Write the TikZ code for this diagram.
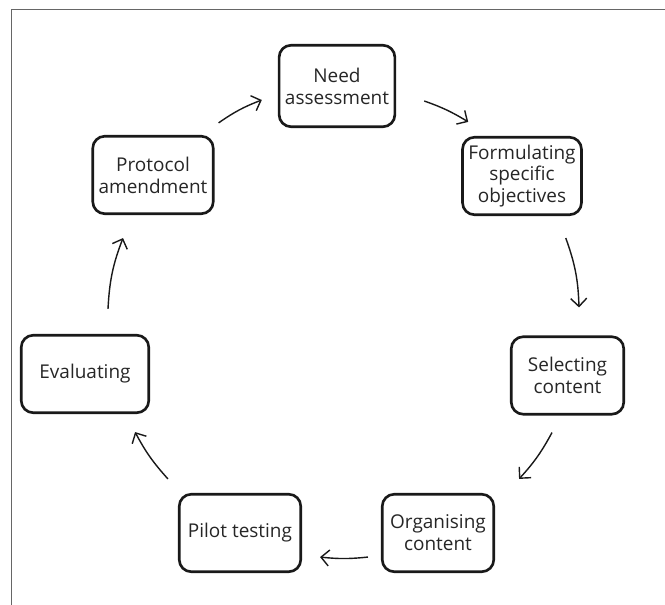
\documentclass[tikz,border=0pt]{standalone}
\usepackage{fontspec}
\setmainfont{Open Sans}
\usepackage{xcolor}
\usetikzlibrary{arrows.meta,positioning}

\begin{document}
\begin{tikzpicture}[
    stage/.style={rectangle, draw=black!90, line width=1.5pt, rounded corners=0.24cm, minimum width=2.25cm, minimum height=1.55cm, align=center, text=black!85, font=\fontsize{10.8}{12.4}\selectfont},
    arrow/.style={-{Straight Barb[length=1.6mm,width=3.2mm]}, line width=0.8pt, black!90}
]
    \useasboundingbox (0,0) rectangle (13.3,12.1);
    % frame (top and left edge only)
    \draw[gray!80!black, line width=0.8pt] (0.23,0) -- (0.23,11.914) -- (13.3,11.914);

    % Stages
    \node[stage, minimum height=1.63cm] (need) at (6.74,10.38) {Need\\assessment};
    \node[stage] (form) at (10.44,8.58) {Formulating\\specific\\objectives};
    \node[stage] (sel) at (11.35,4.59) {Selecting\\content};
    \node[stage, minimum width=2.23cm] (org) at (8.76,1.44) {Organising\\content};
    \node[stage, minimum width=2.43cm] (pilot) at (4.80,1.44) {Pilot testing};
    \node[stage, minimum width=2.55cm] (eval) at (1.70,4.62) {Evaluating};
    \node[stage] (prot) at (3.06,8.60) {Protocol\\amendment};

    % Cycle
    \draw[arrow] ([shift={(0.08,0.24)}]prot.north east) to[bend left=7] ([shift={(-0.32,-0.28)}]need.west);
    \draw[arrow] ([shift={(0.56,-0.30)}]need.east) to[bend left=6] ([shift={(0.14,0.28)}]form.north west);
    \draw[arrow] ([shift={(-0.34,-0.44)}]form.south east) to[bend left=9] ([shift={(0.23,0.56)}]sel.north);
    \draw[arrow] ([shift={(-0.31,-0.34)}]sel.south) to[bend left=7] ([shift={(0.48,0.28)}]org.north east);
    \draw[arrow] ([shift={(-0.26,0.32)}]org.south west) to[bend left=6] ([shift={(0.36,0.32)}]pilot.south east);
    \draw[arrow] ([shift={(-0.20,0.28)}]pilot.north west) to[bend left=7] ([shift={(-0.30,-0.36)}]eval.south east);
    \draw[arrow] ([shift={(0.46,0.50)}]eval.north) to[bend left=9] ([shift={(-0.60,-0.46)}]prot.south);
\end{tikzpicture}
\end{document}
